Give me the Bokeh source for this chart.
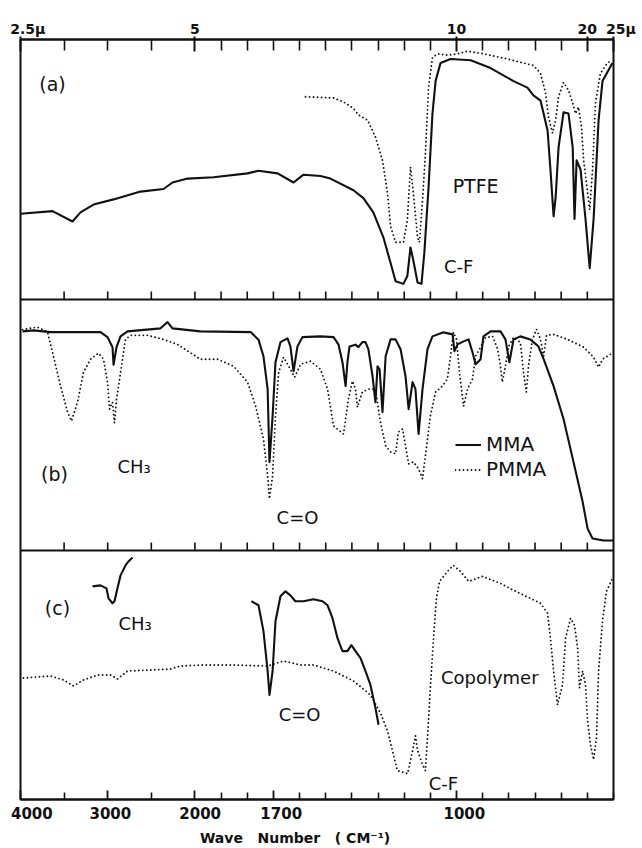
import numpy as np
from bokeh.plotting import figure
from bokeh.models import Range1d, LinearAxis, FixedTicker, Span, Legend, LegendItem
from bokeh.core.properties import value
from bokeh.embed import file_html
from bokeh.resources import INLINE

# ---------------- data (wavenumber in cm-1, transmittance in % of panel height) -------------
# panel (a): PTFE (solid) and second PTFE trace (dotted)
ptfe_solid_wn = [4000, 3633, 3404, 3312, 3163, 2933, 2624, 2360, 2257, 2085, 1929, 1799, 1757, 1684,
                 1623, 1585, 1520, 1482, 1394, 1356, 1318, 1280, 1252, 1233, 1203, 1188, 1176, 1165,
                 1149, 1134, 1123, 1107, 1092, 1080, 1061, 1023, 946, 870, 782, 729, 706, 679, 652,
                 641, 629, 621, 610, 591, 572, 556, 549, 541, 526, 507, 491, 476, 457, 442, 404]
ptfe_solid_t = [33, 34, 30, 33.5, 36.5, 38.5, 41.5, 42.5, 45, 46.5, 47, 48.5, 49.5, 48.5,
                45, 48, 47.5, 46.5, 42, 39, 33.5, 24, 14, 7, 6, 9, 20, 15,
                6.5, 6, 18, 43, 71.5, 84, 91, 92.5, 92, 89, 84, 81.5, 78.5, 76.5, 65,
                50, 32, 39.5, 58.5, 72, 71.5, 58.5, 31, 53.5, 50, 31, 12, 31, 69, 84, 91]

ptfe_dot_wn = [1577, 1470, 1432, 1394, 1375, 1340, 1310, 1283, 1264, 1252, 1233, 1203, 1188, 1176,
               1165, 1149, 1142, 1130, 1119, 1107, 1092, 1073, 1035, 996, 958, 897, 805, 706, 679,
               660, 648, 633, 621, 610, 591, 572, 556, 545, 534, 522, 514, 499, 491, 480, 469,
               450, 423, 404]
ptfe_dot_t = [78, 77.5, 76, 73.5, 71, 69, 62.5, 53.5, 41, 28, 22, 22, 30.5, 51,
              41, 24, 22, 38, 56, 81.5, 93, 94.5, 94, 94.5, 95.5, 94.5, 92.5, 90, 87,
              79.5, 70, 64, 69, 78, 83.5, 80.5, 75.5, 71.5, 74, 66, 53.5, 41, 34.5, 50, 75.5,
              87, 91, 92]

# panel (b): MMA (solid) and PMMA (dotted)
mma_wn = [3977, 3851, 3656, 3461, 3083, 3002, 2945, 2933, 2899, 2853, 2773, 2394, 2314, 2257,
          1979, 1787, 1757, 1738, 1722, 1715, 1703, 1692, 1673, 1646, 1635, 1623, 1608, 1589,
          1520, 1470, 1451, 1436, 1424, 1417, 1409, 1386, 1375, 1360, 1348, 1337, 1321, 1310,
          1302, 1294, 1283, 1271, 1252, 1233, 1214, 1195, 1183, 1168, 1157, 1145, 1130, 1111,
          1092, 1050, 1015, 1008, 996, 973, 954, 939, 927, 908, 897, 870, 832, 813, 798, 782,
          756, 718, 687, 667, 629, 591, 553, 518, 499, 480, 438, 400]
mma_t = [87.3, 87.7, 87, 87, 87, 85, 81, 74, 81, 85.3, 87.3, 88.5, 91, 88.5,
         87.3, 87, 84, 77.4, 64.3, 35.3, 53.6, 75, 83, 84.5, 81.3, 71.4, 81.3, 85,
         85.3, 85, 82, 75, 65.5, 75, 81.3, 82, 81, 83, 83, 80.2, 69.4, 59.1,
         73.4, 72.2, 55.2, 77.4, 84.1, 84.1, 80.2, 69.4, 56.3, 67.1, 64.3, 46.4, 64.3, 80.2,
         85.3, 86.9, 86.1, 79.4, 82.1, 83.3, 84.1, 79, 74.2, 76.2, 85.3, 87.3, 87.3, 84.1, 75, 84.1,
         85.3, 84.1, 81.3, 76.2, 65.5, 52.4, 35.3, 19.4, 8.7, 4.8, 4, 4]

pmma_wn = [3977, 3805, 3690, 3622, 3541, 3461, 3415, 3346, 3278, 3197, 3106, 3048, 3002, 2979,
           2945, 2922, 2899, 2864, 2830, 2796, 2739, 2544, 2360, 2200, 1979, 1914, 1852, 1799,
           1768, 1738, 1722, 1715, 1703, 1692, 1680, 1661, 1635, 1619, 1596, 1558, 1520, 1493,
           1470, 1432, 1413, 1398, 1386, 1379, 1360, 1337, 1310, 1291, 1271, 1252, 1233, 1222,
           1206, 1195, 1183, 1165, 1145, 1130, 1119, 1100, 1080, 1054, 1035, 1023, 1012, 1000,
           989, 973, 958, 939, 927, 908, 889, 862, 843, 832, 825, 813, 801, 782, 756, 744, 733,
           725, 710, 694, 679, 667, 656, 629, 576, 514, 476, 457, 442, 411]
pmma_t = [88, 89, 87, 77.4, 65.5, 55.2, 51.6, 59.1, 71, 76.2, 78.6, 76.2, 67.1, 56.3,
          59.1, 50.8, 60.3, 68.3, 76.2, 84.1, 85.7, 85.7, 84.1, 82.1, 76.2, 76.2, 73.4, 67.1,
          57.5, 44.4, 29.8, 20.6, 29.8, 53.6, 71, 77, 72.2, 69, 74.2, 75.4, 72.2, 64.3,
          49.6, 46.4, 60.3, 67.5, 64.3, 57.1, 63.1, 64.3, 64.3, 51.2, 41.7, 39.3, 38.5, 47.2,
          48.4, 41.7, 34.5, 35.3, 32.5, 28.6, 37.7, 53.6, 63.1, 65.5, 68.3, 77.4, 86.9, 84.1,
          71, 57.5, 64.3, 68.3, 77.4, 81, 84.9, 85.3, 80.2, 73.4, 67.1, 73.4, 81.3, 84.9, 82.9, 71, 63.1,
          73.4, 84.1, 88.1, 84.1, 77.4, 85.7, 86.1, 84.1, 81, 77, 73, 76.2, 78.2]

# panel (c): copolymer, solid pieces and dotted trace
co_ch3_wn = [3174, 3083, 3014, 2991, 2945, 2922, 2888, 2853, 2796, 2762, 2716]
co_ch3_t = [85.6, 86, 84.8, 80.8, 78.8, 79.6, 84.8, 90, 94, 95.6, 97.2]

co_co_wn = [1784, 1757, 1738, 1722, 1715, 1703, 1692, 1673, 1654, 1635, 1616, 1585, 1547, 1512,
            1493, 1474, 1455, 1436, 1417, 1402, 1386, 1367, 1348, 1329, 1310, 1298]
co_co_t = [79.6, 78, 67.6, 51.6, 42, 51.6, 71.6, 81.6, 83.6, 82, 79.6, 79.6, 80.4, 79.6,
           78, 72.8, 64.8, 59.6, 59.6, 62, 59.6, 56.8, 51.6, 46, 36.8, 30]

co_dot_wn = [3966, 3656, 3507, 3392, 3278, 3117, 2968, 2888, 2773, 2509, 2280, 2165, 1979, 1852,
             1722, 1661, 1596, 1547, 1470, 1394, 1329, 1291, 1264, 1245, 1226, 1187, 1168, 1157,
             1149, 1130, 1119, 1111, 1100, 1088, 1077, 1065, 1035, 1012, 985, 954, 901, 832, 782,
             718, 679, 652, 641, 629, 614, 595, 583, 564, 549, 537, 530, 518, 507, 499, 488, 476,
             465, 457, 442, 427, 400]
co_dot_t = [48.8, 49.6, 48, 45.6, 48, 50, 50, 48.4, 51.6, 52, 52.4, 53.6, 54, 54,
            53.6, 55.6, 54, 54, 51.6, 47.6, 42, 34.8, 27.6, 19.6, 11.6, 10.4, 19.6, 25.6,
            19.6, 14, 11.6, 24.8, 44.8, 64.8, 80.8, 87.6, 91.6, 94, 91.6, 87.6, 89.6, 86.8, 84,
            80.8, 78.8, 74.8, 64.8, 51.6, 38, 46, 64.8, 72.8, 70, 60.8, 44.8, 51.6, 46, 31.6, 22, 16,
            24.8, 51.6, 71.6, 83.6, 89.6]

# axes
NB = "\u00a0"
bottom_major_wn = [4000, 3000, 2000, 1700, 1000]
bottom_major_labels = [NB * 2 + "4000", NB + "3000", NB * 2 + "2000", NB * 3 + "1700", NB * 3 + "1000"]
top_major_wn = [4000, 2000, 1000, 500, 400]
top_major_labels = [NB * 2 + "2.5\u03bc", "5", "10", "20", NB * 3 + "25\u03bc"]
all_tick_wn = [4000, 3500, 3000, 2500, 2000, 1900, 1800, 1700, 1600, 1500, 1400, 1300, 1200,
               1100, 1000, 900, 800, 700, 600, 500, 400]
x_title = "Wave" + NB * 3 + "Number" + NB * 3 + "(" + NB + "CM\u207b\u00b9)" + NB * 9

FONT = "DejaVu Sans"
INK = "#111111"


# chart-paper abscissa: 4000-2000 cm-1 at 1 unit / 1000, below 2000 at 3 units / 1000
def pos(wn):
    wn = np.asarray(wn, dtype=float)
    return np.round(np.where(wn >= 2000, (4000 - wn) / 1000.0, 2 + 3 * (2000 - wn) / 1000.0), 6)


# vertical bands of the three stacked panels (bottom, height)
BANDS = {"a": (502, 261), "b": (250, 252), "c": (0, 250)}


def band(panel, t):
    b, h = BANDS[panel]
    return b + np.asarray(t, dtype=float) * h / 100.0


p = figure(width=642, height=848, x_range=Range1d(0, 6.8), y_range=Range1d(0, 763),
           output_backend="svg", toolbar_location=None,
           x_axis_location=None, y_axis_location=None,
           min_border_left=20, min_border_right=29, min_border_top=39, min_border_bottom=46)
p.grid.visible = False
p.outline_line_color = INK
p.outline_line_width = 2
p.outline_line_alpha = 1
p.background_fill_color = "white"
p.border_fill_color = "white"

minor_bottom = [w for w in all_tick_wn if w not in bottom_major_wn]
minor_top = [w for w in all_tick_wn if w not in top_major_wn]

top_ax = LinearAxis(
    ticker=FixedTicker(ticks=list(pos(top_major_wn)), minor_ticks=list(pos(minor_top))),
    major_label_overrides={float(k): v for k, v in zip(pos(top_major_wn), top_major_labels)},
    major_tick_in=12, major_tick_out=3, minor_tick_in=11, minor_tick_out=0,
    axis_line_width=2, axis_line_color=INK,
    major_tick_line_width=2, major_tick_line_color=INK,
    minor_tick_line_width=1.6, minor_tick_line_color=INK,
    major_label_text_font=FONT, major_label_text_font_size="14px",
    major_label_text_font_style="bold", major_label_text_color=INK,
    major_label_standoff=0)
p.add_layout(top_ax, "above")

bot_ax = LinearAxis(
    ticker=FixedTicker(ticks=list(pos(bottom_major_wn)), minor_ticks=list(pos(minor_bottom))),
    major_label_overrides={float(k): v for k, v in zip(pos(bottom_major_wn), bottom_major_labels)},
    major_tick_in=9, major_tick_out=0, minor_tick_in=7, minor_tick_out=0,
    axis_line_width=2, axis_line_color=INK,
    major_tick_line_width=1.8, major_tick_line_color=INK,
    minor_tick_line_width=1.6, minor_tick_line_color=INK,
    major_label_text_font=FONT, major_label_text_font_size="15px",
    major_label_text_font_style="bold", major_label_text_color=INK,
    major_label_standoff=5,
    axis_label=x_title, axis_label_text_font=FONT,
    axis_label_text_font_size="14px", axis_label_text_font_style="bold",
    axis_label_text_color=INK, axis_label_standoff=4)
p.add_layout(bot_ax, "below")

# panel separators with upward ticks
inner_wn = [w for w in all_tick_wn if w not in (4000, 400)]
for sep in (BANDS["b"][0], BANDS["a"][0]):
    p.add_layout(Span(location=sep, dimension="width", line_color=INK, line_width=2))
    xs = pos(inner_wn)
    p.segment(x0=xs, y0=[sep] * len(xs), x1=xs, y1=[sep + 8] * len(xs),
              line_color=INK, line_width=1.6)

SOLID = dict(line_color=INK, line_width=2.1, line_join="round")
DOTTED = dict(line_color=INK, line_width=1.9, line_dash="0 4", line_cap="round")

p.line(pos(ptfe_solid_wn), band("a", ptfe_solid_t), **SOLID)
p.line(pos(ptfe_dot_wn), band("a", ptfe_dot_t), **DOTTED)
mma_r = p.line(pos(mma_wn), band("b", mma_t), **SOLID)
pmma_r = p.line(pos(pmma_wn), band("b", pmma_t), **DOTTED)
p.line(pos(co_ch3_wn), band("c", co_ch3_t), **SOLID)
p.line(pos(co_co_wn), band("c", co_co_t), **SOLID)
p.line(pos(co_dot_wn), band("c", co_dot_t), **DOTTED)

legend = Legend(items=[LegendItem(label="MMA", renderers=[mma_r]),
                       LegendItem(label="PMMA", renderers=[pmma_r])],
                location=(435, 318), orientation="vertical",
                label_text_font=FONT, label_text_font_size="20px", label_text_color=INK,
                glyph_width=26, glyph_height=19, label_height=19, spacing=1, padding=0,
                margin=0, label_standoff=5, border_line_alpha=0, background_fill_alpha=0)
p.add_layout(legend)

TXT = dict(text_font=value(FONT), text_color=INK, text_baseline="middle")
# centred annotations: (label, wavenumber, panel, transmittance, size)
centred = [("(a)", 3633, "a", 82.8, "19px"), ("PTFE", 927, "a", 43.7, "19px"),
           ("C-F", 992, "a", 12.6, "18px"), ("(b)", 3610, "b", 30.6, "19px"),
           ("C=O", 1608, "b", 13.1, "18px"), ("(c)", 3576, "c", 76.8, "19px"),
           ("C=O", 1600, "c", 34, "18px"), ("Copolymer", 873, "c", 48.8, "18px"),
           ("C-F", 1050, "c", 6.4, "18px")]
for s, w, pn, t, fs in centred:
    p.text(x=pos([w]), y=band(pn, [t]), text=[s], text_align="center", text_font_size=fs, **TXT)
for w, pn, t in [(2888, "b", 33.3), (2876, "c", 70.8)]:
    p.text(x=pos([w]), y=band(pn, [t]), text=["CH\u2083"], text_align="left",
           text_font_size="18px", **TXT)

open("out.html", "w").write(file_html(p, INLINE))
